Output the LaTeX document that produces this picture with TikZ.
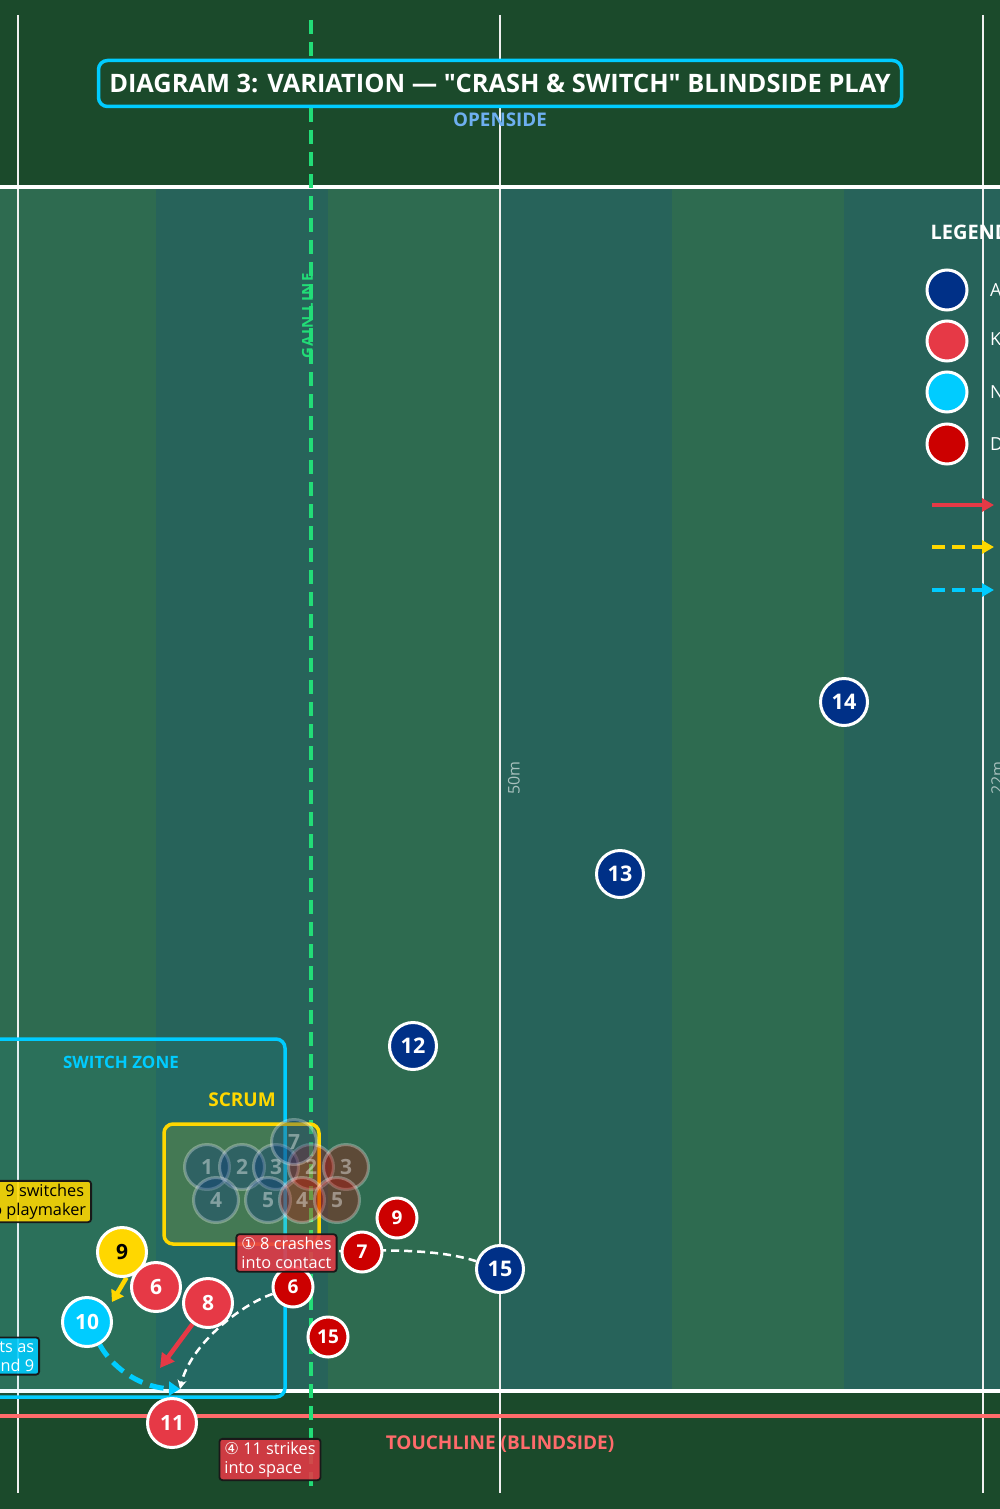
\documentclass[tikz,border=0pt]{standalone}
\usepackage{fontspec}
\setmainfont{Open Sans}[Ligatures=TeXOff]
\newfontfamily\dejavu{DejaVu Sans}
\usetikzlibrary{arrows.meta}
\pgfdeclarelayer{field}
\pgfdeclarelayer{lines}
\pgfsetlayers{field,lines,main}
\definecolor{bgdark}{HTML}{1B4A2B}
\definecolor{stA}{HTML}{2E6B50}
\definecolor{stB}{HTML}{27635A}
\definecolor{navy}{HTML}{003087}
\definecolor{keyred}{HTML}{E63946}
\definecolor{cyanp}{HTML}{00CCFF}
\definecolor{defred}{HTML}{CC0000}
\definecolor{gold}{HTML}{FFD700}
\definecolor{coral}{HTML}{FF6B6B}
\definecolor{gaing}{HTML}{22DD77}
\definecolor{openblue}{HTML}{6EAFF0}
\newcommand\fsz[1]{\fontsize{#1}{#1}\selectfont}
\tikzset{
  fieldline/.style={white!88!gray, line width=2.5pt},
  pl/.style={circle, draw=white, line width=3pt, inner sep=0pt, text=white},
  atkp/.style={pl, fill=navy, minimum size=47pt, font=\bfseries\fsz{21.5}},
  keyp/.style={pl, fill=keyred, minimum size=49pt, font=\bfseries\fsz{21}},
  defp/.style={pl, fill=defred, minimum size=40pt, font=\bfseries\fsz{19}},
  legc/.style={pl, minimum size=40pt},
  scrb/.style={circle, minimum size=45pt, inner sep=0pt, line width=3pt, draw=white, draw opacity=0.3, fill opacity=0.3, text=white, text opacity=0.4, font=\bfseries\fsz{21}},
  lab/.style={draw=black!90, line width=1.8pt, rounded corners=3pt, inner xsep=5pt, inner ysep=3pt, font=\fontsize{16.3}{19}\selectfont, fill opacity=0.88, text opacity=1},
  wdash/.style={white, line width=2.5pt, dash pattern=on 8pt off 5pt},
  warrow/.style={wdash, -{Stealth[length=9pt,width=9pt]}},
  carrow/.style={cyanp, line width=5pt, dash pattern=on 14pt off 8pt, -{Triangle[length=11pt,width=14pt]}},
  rarrow/.style={keyred, line width=4.5pt, -{Triangle[length=14pt,width=15pt]}},
  yarrow/.style={gold, line width=4.5pt, -{Triangle[length=11pt,width=14pt]}},
  ydash/.style={gold, line width=4pt, dash pattern=on 10pt off 6pt},
}
\begin{document}
\begin{tikzpicture}[x=1pt,y=-1pt]
\useasboundingbox (0,0) rectangle (1000,1509);
\clip (0,0) rectangle (1000,1509);
\begin{pgfonlayer}{field}
\fill[bgdark] (0,0) rectangle (1000,1509);
\fill[stA] (0,187) rectangle (156,1391);
\fill[stB] (156,187) rectangle (328,1391);
\fill[stA] (328,187) rectangle (500,1391);
\fill[stB] (500,187) rectangle (672,1391);
\fill[stA] (672,187) rectangle (844,1391);
\fill[stB] (844,187) rectangle (1000,1391);
\foreach \x in {18,500,983} \draw[fieldline] (\x,15) -- (\x,1493);
\draw[white, line width=4pt] (0,187) -- (1000,187);
\draw[white, line width=4pt] (0,1391) -- (1000,1391);
\draw[coral, line width=3.5pt] (0,1416) -- (1000,1416);
\draw[gaing, line width=3.5pt, dash pattern=on 14pt off 8pt] (311,20) -- (311,1493);
\draw[cyanp, line width=3.5pt, fill=cyanp, fill opacity=0.06, rounded corners=9pt] (-30,1039) rectangle (285,1397);
\draw[gold, line width=3.5pt, fill=gold, fill opacity=0.15, rounded corners=9pt] (164,1124) rectangle (319,1244);
\end{pgfonlayer}

% texts on the field
\node[draw=cyanp, line width=3.5pt, fill=bgdark, rounded corners=9pt, minimum width=803pt, minimum height=46pt, inner xsep=2pt, text=white, font=\bfseries\fsz{25.4}] (title) at (500,83.5) {DIAGRAM 3: VARIATION — "CRASH \& SWITCH" BLINDSIDE PLAY};
\node[text=openblue, font=\bfseries\fsz{18.8}] (open) at (500,120) {OPENSIDE};
\node[text=coral, font=\bfseries\fsz{19}] (touch) at (500,1444) {TOUCHLINE (BLINDSIDE)};
\node[text=gaing, rotate=90, font=\bfseries\fsz{15}\addfontfeatures{LetterSpace=9}] (gain) at (307.5,316) {GAIN LINE};
\node[text=white, text opacity=0.6, rotate=90, font=\fsz{16}] (m50) at (514,778) {50m};
\node[text=white, text opacity=0.6, rotate=90, font=\fsz{16}] (m22) at (997,778) {22m};
\node[text=cyanp, font=\bfseries\fsz{17}] (szone) at (121,1062) {SWITCH ZONE};
\node[text=gold, font=\bfseries\fsz{19}] (scrumt) at (242,1100) {SCRUM};

% legend
\node[anchor=west, text=white, font=\bfseries\fsz{20}] (legt) at (927,232) {LEGEND};
\node[legc, fill=navy] (lg1) at (947,290) {};
\node[legc, fill=keyred] (lg2) at (947,341) {};
\node[legc, fill=cyanp] (lg3) at (947,392) {};
\node[legc, fill=defred] (lg4) at (947,444) {};
\node[anchor=west, text=white, font=\fsz{18}, inner xsep=0pt] (lt1) at (990,290) {Attack};
\node[anchor=west, text=white, font=\fsz{18}, inner xsep=0pt] (lt2) at (990,341) {Key runners};
\node[anchor=west, text=white, font=\fsz{18}, inner xsep=0pt] (lt3) at (990,392) {New 9};
\node[anchor=west, text=white, font=\fsz{18}, inner xsep=0pt] (lt4) at (990,444) {Defence};
\coordinate (la1) at (932,505); \coordinate (lb1) at (994,505);
\coordinate (la2) at (932,547); \coordinate (lb2) at (994,547);
\coordinate (la3) at (932,590); \coordinate (lb3) at (994,590);

% scrum
\node[scrb, fill=navy] (s1) at (207,1167) {1};
\node[scrb, fill=navy] (s2) at (242,1167) {2};
\node[scrb, fill=navy] (s3) at (276,1167) {3};
\node[scrb, fill=navy] (s4) at (216,1200) {4};
\node[scrb, fill=navy] (s5) at (268,1200) {5};
\node[scrb, fill=defred] (r2) at (311,1167) {2};
\node[scrb, fill=defred] (r3) at (346,1167) {3};
\node[scrb, fill=defred] (r4) at (302,1200) {4};
\node[scrb, fill=defred] (r5) at (337,1200) {5};
\node[scrb, fill=navy] (s7) at (294,1142) {7};

% players
\node[atkp] (a14) at (844,702) {14};
\node[atkp] (a13) at (620,874) {13};
\node[atkp] (a12) at (413,1046) {12};
\node[atkp] (a15) at (500,1269) {15};
\node[defp] (d9) at (397,1218) {9};
\node[defp] (d7) at (362,1252) {7};
\node[defp] (d6) at (293,1287) {6};
\node[defp] (d15) at (328,1337) {15};
\node[keyp, fill=gold, text=black] (k9) at (122,1252) {9};
\node[keyp] (k6) at (156,1287) {6};
\node[keyp] (k8) at (208,1303) {8};
\node[keyp, fill=cyanp] (k10) at (87,1322) {10};
\node[keyp] (k11) at (172,1423) {11};

% labels
\node[lab, fill=keyred, text=white, align=left] (lab1) at (286.5,1253) {{\dejavu ①} 8 crashes\\into contact};
\node[lab, fill=gold, text=black, align=left, anchor=east] (lab2) at (92,1201.5) {{\dejavu ②} 9 switches\\to playmaker};
\node[lab, fill=cyanp, text=white, align=right, anchor=east] (lab3) at (40,1356) {{\dejavu ③} 10 acts as\\second 9};
\node[lab, fill=keyred, text=white, align=left] (lab4) at (270,1459.5) {{\dejavu ④} 11 strikes\\into space};

\coordinate (y9end) at (112,1302);
\coordinate (r8end) at (160,1368);
\coordinate (gap) at (180,1389);

\begin{pgfonlayer}{lines}
\draw[wdash] (a15) .. controls (445,1251) and (400,1249) .. (lab1);
\draw[ydash] (k9) -- (k8);
\draw[yarrow] (k9.280) -- (y9end);
\draw[rarrow] (k8) -- (r8end);
\draw[carrow] (k10) .. controls (115,1372) and (145,1388) .. (gap);
\draw[warrow] (d6) .. controls (240,1305) and (190,1345) .. (gap);
\draw[keyred, line width=4pt, -{Triangle[length=12pt,width=13pt]}] (la1) -- (lb1);
\draw[gold, line width=4pt, dash pattern=on 13pt off 7pt, -{Triangle[length=12pt,width=13pt]}] (la2) -- (lb2);
\draw[cyanp, line width=4pt, dash pattern=on 13pt off 7pt, -{Triangle[length=12pt,width=13pt]}] (la3) -- (lb3);
\end{pgfonlayer}
\end{tikzpicture}
\end{document}
